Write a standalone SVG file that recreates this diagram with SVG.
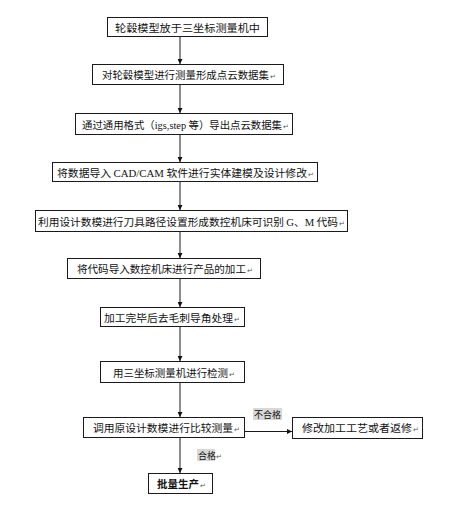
<svg xmlns="http://www.w3.org/2000/svg" width="450" height="507" viewBox="0 0 450 507">
<style>
.box{fill:#fff;stroke:#1a1a1a;stroke-width:1}
.t{font-family:"Noto Sans CJK SC","Noto Sans",sans-serif;font-size:10.3px;fill:#111}
.lat{font-family:"Liberation Serif",serif}
.pm{font-family:"Noto Sans CJK SC","Noto Sans",sans-serif;font-size:7px;fill:#555}
.ln{stroke:#1a1a1a;stroke-width:1;fill:none}
.lbl{fill:#d8d8d8}
</style>
<defs>
<marker id="ah" viewBox="0 0 8 8" refX="8" refY="4" markerWidth="5" markerHeight="5" orient="auto" markerUnits="userSpaceOnUse">
<path d="M0,0 L8,4 L0,8 Z" fill="#111"/>
</marker>
</defs>
<rect width="450" height="507" fill="#fff"/>
<g id="connectors">
<line class="ln" x1="180" y1="37" x2="180" y2="64" marker-end="url(#ah)"/>
<line class="ln" x1="180" y1="85" x2="180" y2="113" marker-end="url(#ah)"/>
<line class="ln" x1="180" y1="135" x2="180" y2="162" marker-end="url(#ah)"/>
<line class="ln" x1="180" y1="182" x2="180" y2="210" marker-end="url(#ah)"/>
<line class="ln" x1="180" y1="232" x2="180" y2="258" marker-end="url(#ah)"/>
<line class="ln" x1="180" y1="279" x2="180" y2="307" marker-end="url(#ah)"/>
<line class="ln" x1="180" y1="327" x2="180" y2="361" marker-end="url(#ah)"/>
<line class="ln" x1="180" y1="383" x2="180" y2="417" marker-end="url(#ah)"/>
<line class="ln" x1="180" y1="438" x2="180" y2="473" marker-end="url(#ah)"/>
<line class="ln" x1="245" y1="431.5" x2="292" y2="431.5" marker-end="url(#ah)"/>
<rect class="lbl" x="253" y="408" width="29" height="12"/>
<text class="t" x="254" y="418" style="font-size:9px">不合格</text>
<rect class="lbl" x="197" y="449" width="18" height="12"/>
<text class="t" x="198" y="459" style="font-size:9px">合格</text>
<text class="pm" x="216" y="459">↵</text>
</g>
<g id="n1">
<rect class="box" x="107.5" y="17.5" width="160" height="19"/>
<text class="t" x="115" y="31.5" textLength="145" lengthAdjust="spacingAndGlyphs">轮毂模型放于三坐标测量机中</text>
</g>
<g id="n2">
<rect class="box" x="92.5" y="64.5" width="191" height="20"/>
<text class="t" x="102" y="79" textLength="167" lengthAdjust="spacingAndGlyphs">对轮毂模型进行测量形成点云数据集</text>
<text class="pm" x="270" y="79">↵</text>
</g>
<g id="n3">
<rect class="box" x="75.5" y="113.5" width="217" height="21"/>
<text class="t" x="82" y="128.5" textLength="200" lengthAdjust="spacingAndGlyphs">通过通用格式（<tspan class="lat">igs,step</tspan> 等）导出点云数据集</text>
<text class="pm" x="283" y="128.5">↵</text>
</g>
<g id="n4">
<rect class="box" x="52.5" y="162.5" width="265" height="19"/>
<text class="t" x="57" y="176.5" textLength="250" lengthAdjust="spacingAndGlyphs">将数据导入 <tspan class="lat">CAD/CAM</tspan> 软件进行实体建模及设计修改</text>
<text class="pm" x="308" y="176.5">↵</text>
</g>
<g id="n5">
<rect class="box" x="35.5" y="210.5" width="312" height="21"/>
<text class="t" x="38" y="225.5" textLength="300" lengthAdjust="spacingAndGlyphs">利用设计数模进行刀具路径设置形成数控机床可识别 <tspan class="lat">G</tspan>、<tspan class="lat">M</tspan> 代码</text>
<text class="pm" x="339" y="225.5">↵</text>
</g>
<g id="n6">
<rect class="box" x="67.5" y="258.5" width="193" height="20"/>
<text class="t" x="77" y="273" textLength="169" lengthAdjust="spacingAndGlyphs">将代码导入数控机床进行产品的加工</text>
<text class="pm" x="247" y="273">↵</text>
</g>
<g id="n7">
<rect class="box" x="100.5" y="307.5" width="144" height="19"/>
<text class="t" x="104" y="321.5" textLength="129" lengthAdjust="spacingAndGlyphs">加工完毕后去毛刺导角处理</text>
<text class="pm" x="234" y="321.5">↵</text>
</g>
<g id="n8">
<rect class="box" x="100.5" y="361.5" width="144" height="21"/>
<text class="t" x="113" y="376.5" textLength="115" lengthAdjust="spacingAndGlyphs">用三坐标测量机进行检测</text>
<text class="pm" x="229" y="376.5">↵</text>
</g>
<g id="n9">
<rect class="box" x="83.5" y="417.5" width="161" height="20"/>
<text class="t" x="93" y="432" textLength="140" lengthAdjust="spacingAndGlyphs">调用原设计数模进行比较测量</text>
<text class="pm" x="234" y="432">↵</text>
</g>
<g id="n10">
<rect class="box" x="292.5" y="417.5" width="130" height="21"/>
<text class="t" x="302" y="432" textLength="110" lengthAdjust="spacingAndGlyphs">修改加工工艺或者返修</text>
<text class="pm" x="413" y="432">↵</text>
</g>
<g id="n11">
<rect class="box" x="148.5" y="473.5" width="64" height="20"/>
<text class="t" x="157" y="488" textLength="42" lengthAdjust="spacingAndGlyphs" style="font-weight:bold">批量生产</text>
<text class="pm" x="200" y="488">↵</text>
</g>
</svg>
